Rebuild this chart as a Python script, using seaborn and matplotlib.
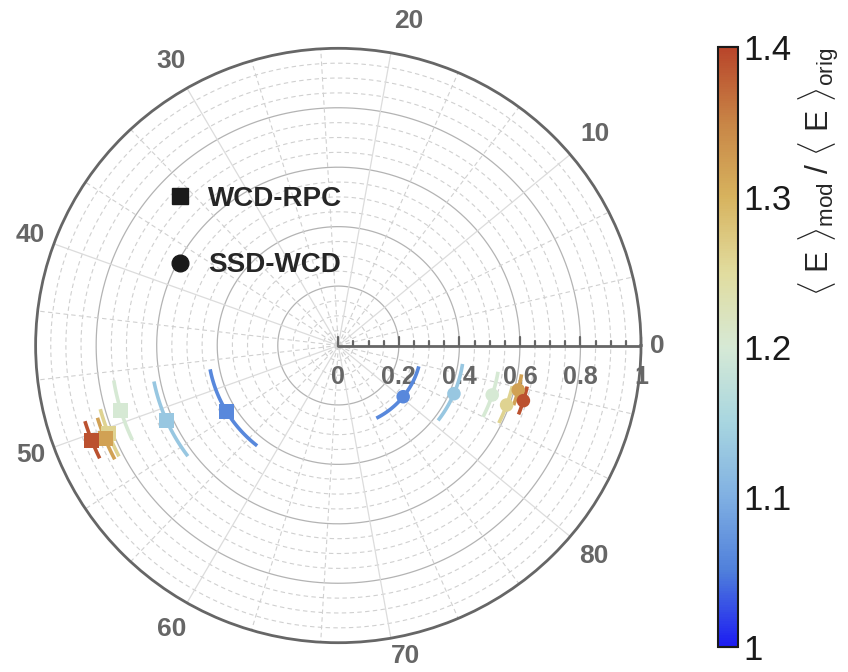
import numpy as np
import seaborn as sns
import matplotlib.pyplot as plt
from matplotlib.colors import LinearSegmentedColormap, Normalize
from matplotlib.cm import ScalarMappable
from matplotlib.lines import Line2D

# energy ratio <E>_mod / <E>_orig for each configuration (colour)
ratio = [1.06, 1.13, 1.20, 1.26, 1.32, 1.39]

# SSD-WCD (circles): radius, phase (axis units) and phase error
ssd_r = [0.275, 0.415, 0.535, 0.591, 0.613, 0.639]
ssd_phase = [80.3, 84.25, 85.47, 85.05, 86.47, 85.78]
ssd_err = [6.0, 3.6, 2.15, 1.6, 1.25, 1.1]

# WCD-RPC (squares)
wcd_r = [0.431, 0.621, 0.751, 0.815, 0.832, 0.875]
wcd_phase = [52.78, 51.01, 49.25, 50.31, 50.55, 50.33]
wcd_err = [5.1, 3.2, 2.0, 1.5, 1.3, 1.1]

theta_ticks = [0, 10, 20, 30, 40, 50, 60, 70, 80]
r_ticks = [0, 0.2, 0.4, 0.6, 0.8, 1.0]
r_labels = ["0", "0.2", "0.4", "0.6", "0.8", "1"]
cb_ticks = [1.0, 1.1, 1.2, 1.3, 1.4]
cb_labels = ["1", "1.1", "1.2", "1.3", "1.4"]

sns.set_theme(style="white")
plt.rcParams['font.family'] = ['Liberation Sans', 'DejaVu Sans']
plt.rcParams['mathtext.fontset'] = 'custom'
plt.rcParams['mathtext.rm'] = 'Liberation Sans'
plt.rcParams['mathtext.it'] = 'Liberation Sans:italic'
plt.rcParams['mathtext.sf'] = 'Liberation Sans'

cmap = LinearSegmentedColormap.from_list("ratio", [
    (0.0, "#1c1cf2"), (0.125, "#4f7fdb"), (0.25, "#80b0e2"),
    (0.375, "#a8d6e0"), (0.5, "#d6e9d5"), (0.625, "#e1dc9e"),
    (0.75, "#d7b35e"), (0.875, "#c88546"), (1.0, "#b8452a")])
norm = Normalize(1.0, 1.4)

# phase axis: 0..90 mapped on the full circle
to_rad = lambda v: np.deg2rad(4 * np.asarray(v, dtype=float))

fig = plt.figure(figsize=(8.48, 6.72), dpi=100)
ax = fig.add_axes([0.042, 0.0436, 0.7139, 0.8845], projection='polar')
ax.set_aspect('auto')
ax.set_ylim(0, 1)
ax.grid(False)

# grid
full = np.linspace(0, 2 * np.pi, 500)
for rr in np.arange(0.05, 0.999, 0.05):
    if abs(rr / 0.2 - round(rr / 0.2)) < 1e-6:
        ax.plot(full, np.full_like(full, rr), color="#b3b3b3", lw=0.9, zorder=1)
    else:
        ax.plot(full, np.full_like(full, rr), color="#d0d0d0", lw=0.8,
                ls=(0, (4, 3)), zorder=1)
for k in range(27):
    a = np.deg2rad(k * 40 / 3)
    if k % 3 == 0:
        ax.plot([a, a], [0, 1], color="#dcdcdc", lw=0.9, zorder=1)
    else:
        ax.plot([a, a], [0, 1], color="#d0d0d0", lw=0.8, ls=(0, (4, 3)), zorder=1)

# radial axis with ticks
ax.plot([0, 0], [0, 1], color="#666666", lw=2, zorder=3)
for rr in np.arange(0, 1.0001, 0.05):
    major = abs(rr / 0.2 - round(rr / 0.2)) < 1e-6
    L = 0.0135 if major else 0.0075
    x = 0.5 + rr / 2
    ax.plot([x, x], [0.5, 0.5 + L], transform=ax.transAxes, color="#666666",
            lw=1.6, zorder=3, clip_on=False)
for rr, lab in zip(r_ticks, r_labels):
    ax.annotate(lab, xy=(0, rr), xytext=(0, -23), textcoords='offset points',
                ha='center', va='center', fontsize=18, fontweight='bold',
                color="#666666")

# phase labels around the circle
label_r = [1.053, 1.106, 1.117, 1.104, 1.083, 1.082, 1.10, 1.067, 1.103]
label_nudge = [0, 0, -2, 0, 0, 0, 0, 2, 0]
ax.set_xticks([])
ax.set_yticks([])
for t, lr, dn in zip(theta_ticks, label_r, label_nudge):
    ax.text(np.deg2rad(4 * t + dn), lr, str(t), ha='center', va='center',
            fontsize=19, fontweight='bold', color="#666666", clip_on=False)
ax.spines['polar'].set_color("#666666")
ax.spines['polar'].set_linewidth(2)

# error arcs
for r_list, ph_list, e_list in [(ssd_r, ssd_phase, ssd_err), (wcd_r, wcd_phase, wcd_err)]:
    for rv, ph, e, c in zip(r_list, ph_list, e_list, ratio):
        t = np.linspace(ph - e, ph + e, 60)
        ax.plot(to_rad(t), np.full_like(t, rv), color=cmap(norm(c)), lw=2.6,
                zorder=4, solid_capstyle='butt')

sns.scatterplot(x=to_rad(wcd_phase), y=wcd_r, hue=ratio, palette=cmap,
                hue_norm=(1.0, 1.4), marker='s', s=115, linewidth=0,
                legend=False, ax=ax, zorder=5)
sns.scatterplot(x=to_rad(ssd_phase), y=ssd_r, hue=ratio, palette=cmap,
                hue_norm=(1.0, 1.4), marker='o', s=95, linewidth=0,
                legend=False, ax=ax, zorder=5)
ax.set_xlabel("")
ax.set_ylabel("")

handles = [Line2D([], [], marker='s', color='k', ls='none', markersize=11),
           Line2D([], [], marker='o', color='k', ls='none', markersize=12)]
ax.legend(handles, ["WCD-RPC", "SSD-WCD"], loc='upper left',
          bbox_to_anchor=(166 / 848, 1 - 186 / 672), bbox_transform=fig.transFigure,
          frameon=False, prop={'weight': 'bold', 'size': 20}, labelspacing=1.45,
          handletextpad=0.5, handlelength=1.0, borderpad=0, borderaxespad=0)

# colorbar
cax = fig.add_axes([718 / 848, 25 / 672, 20 / 848, 600 / 672])
cb = fig.colorbar(ScalarMappable(norm=norm, cmap=cmap), cax=cax, ticks=cb_ticks)
cb.ax.set_yticklabels(cb_labels)
cb.ax.tick_params(direction='in', length=14.5, width=1.5, labelsize=25, pad=4,
                  colors='k', right=True)
cb.outline.set_linewidth(1.5)
cb.outline.set_edgecolor('k')
fig.text(819 / 848, 1 - 172 / 672,
         r'$\langle\ \mathrm{E}\ \rangle_{\mathrm{mod}}\ \mathrm{/}\ \langle\ \mathrm{E}\ \rangle_{\mathrm{orig}}$',
         rotation=90, ha='center', va='center', fontsize=23)

fig.savefig("out.png", dpi=100)
